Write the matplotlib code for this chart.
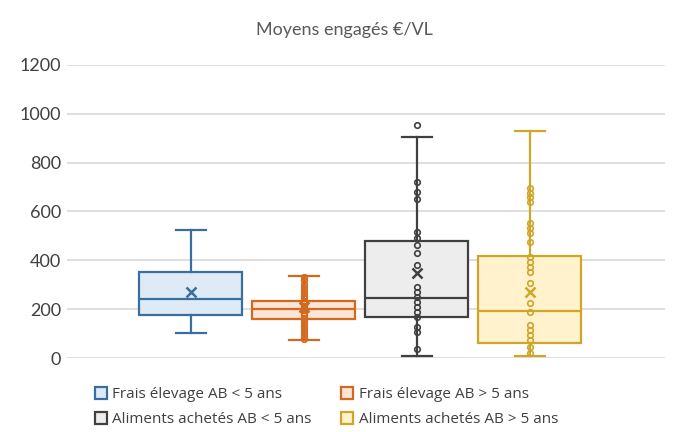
import numpy as np
import matplotlib.pyplot as plt
from matplotlib.lines import Line2D

# Box statistics (whisker low, Q1, median, Q3, whisker high, mean)
series = ["Frais élevage AB < 5 ans", "Frais élevage AB > 5 ans",
          "Aliments achetés AB < 5 ans", "Aliments achetés AB > 5 ans"]
whislo = [104, 74, 8, 8]
q1 = [176, 160, 169, 63]
med = [243, 199, 248, 193]
q3 = [351, 235, 480, 419]
whishi = [524, 336, 906, 931]
means = [272, 210, 347, 272]
outliers = [[], [], [954], []]

# Inner points shown on the chart (none shown for the first series)
pts_blue = []
pts_orange = [330, 318, 305, 292, 280, 268, 256, 245, 235, 225, 215, 205,
              196, 186, 176, 165, 152, 140, 128, 115, 102, 90, 78]
pts_gray = [722, 681, 650, 517, 490, 463, 431, 381, 292, 272, 251, 231,
            210, 190, 169, 128, 108, 36]
pts_yellow = [695, 674, 658, 640, 552, 531, 510, 476, 415, 394, 374, 353,
              306, 224, 190, 135, 115, 94, 74, 46, 20]
points = [pts_blue, pts_orange, pts_gray, pts_yellow]

edge_colors = ["#3A6E9E", "#D2691E", "#404040", "#CFA52A"]
fill_colors = ["#DEEBF7", "#FBE5D6", "#EDEDED", "#FFF2CC"]

plt.rcParams['font.family'] = ['Lato', 'DejaVu Sans']

fig = plt.figure(figsize=(6.75, 4.32), dpi=100)
ax = fig.add_axes([0.099, 0.171, 0.886, 0.679])

positions = [1, 2, 3, 4]
for i in range(4):
    stats = [dict(whislo=whislo[i], q1=q1[i], med=med[i], q3=q3[i],
                  whishi=whishi[i], mean=means[i], fliers=outliers[i])]
    c = edge_colors[i]
    ax.bxp(stats, positions=[positions[i]], widths=0.91, capwidths=0.27,
           patch_artist=True, showmeans=True,
           boxprops=dict(facecolor=fill_colors[i], edgecolor=c, linewidth=1.6),
           medianprops=dict(color=c, linewidth=1.6),
           whiskerprops=dict(color=c, linewidth=1.6),
           capprops=dict(color=c, linewidth=1.6),
           meanprops=dict(marker='x', markeredgecolor=c, markersize=7,
                          markeredgewidth=1.8),
           flierprops=dict(marker='o', markerfacecolor='white',
                           markeredgecolor=c, markersize=4,
                           markeredgewidth=1.2),
           zorder=3)
    if points[i]:
        ax.plot([positions[i]] * len(points[i]), points[i], linestyle='none',
                marker='o', markerfacecolor='none', markeredgecolor=c,
                markersize=4, markeredgewidth=1.2, zorder=4)

ax.set_xlim(-0.097, 5.195)
ax.set_ylim(0, 1200)
ax.set_yticks(np.arange(0, 1201, 200))
ax.set_xticks([])
ax.grid(axis='y', color='#D9D9D9', linewidth=1.2, zorder=0)
ax.set_axisbelow(True)
for s in ax.spines.values():
    s.set_visible(False)
ax.tick_params(axis='y', length=0, labelsize=13, labelcolor='#404040', pad=4)

fig.text(0.511, 0.93, "Moyens engagés €/VL", ha='center', va='center',
         fontsize=13, color='#595959')

# legend fills column by column: reorder so rows read blue/orange, gray/yellow
order = [0, 2, 1, 3]
handles = [Line2D([], [], linestyle='none', marker='s', markersize=8,
                  markerfacecolor=fill_colors[i], markeredgecolor=edge_colors[i],
                  markeredgewidth=1.6) for i in order]
fig.legend(handles, [series[i] for i in order], ncol=2, loc='upper left',
           bbox_to_anchor=(0.13, 0.118), frameon=False,
           prop=dict(family='Open Sans', size=11),
           labelcolor='#404040', handletextpad=0.3, columnspacing=1.9,
           labelspacing=0.65, handlelength=0.9, borderaxespad=0)

fig.savefig("out.png", dpi=100)
